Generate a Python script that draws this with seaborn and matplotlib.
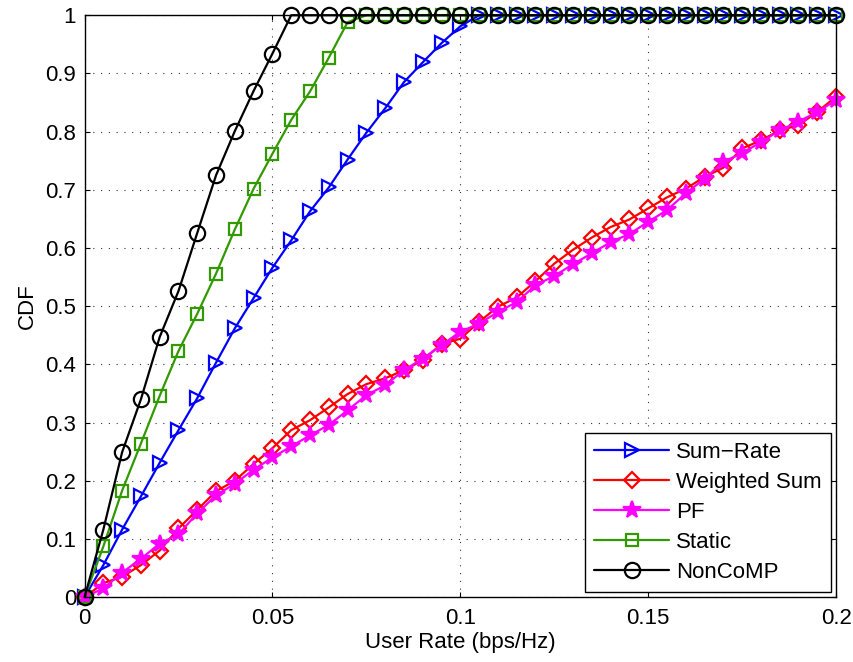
import numpy as np
import pandas as pd
import matplotlib
matplotlib.use("Agg")
import matplotlib.pyplot as plt
import seaborn as sns

# User rate grid (bps/Hz), one sample every 0.005
user_rate = [round(0.005 * i, 3) for i in range(41)]

sum_rate = [0.0, 0.055, 0.116, 0.173, 0.231, 0.287, 0.342, 0.403, 0.462, 0.514,
            0.566, 0.613, 0.663, 0.704, 0.752, 0.798, 0.840, 0.885, 0.919, 0.952,
            0.981, 1.0, 1.0, 1.0, 1.0, 1.0, 1.0, 1.0, 1.0, 1.0,
            1.0, 1.0, 1.0, 1.0, 1.0, 1.0, 1.0, 1.0, 1.0, 1.0, 1.0]

weighted_sum = [0.0, 0.024, 0.035, 0.055, 0.080, 0.118, 0.150, 0.182, 0.200, 0.229,
                0.256, 0.287, 0.304, 0.326, 0.349, 0.366, 0.376, 0.390, 0.407, 0.435,
                0.444, 0.473, 0.499, 0.515, 0.543, 0.573, 0.597, 0.618, 0.636, 0.649,
                0.668, 0.687, 0.702, 0.722, 0.738, 0.771, 0.785, 0.802, 0.811, 0.834, 0.860]

pf = [0.0, 0.015, 0.042, 0.066, 0.092, 0.108, 0.144, 0.175, 0.195, 0.219,
      0.240, 0.259, 0.278, 0.296, 0.321, 0.347, 0.364, 0.390, 0.410, 0.433,
      0.456, 0.470, 0.490, 0.507, 0.536, 0.552, 0.572, 0.591, 0.610, 0.624,
      0.645, 0.665, 0.694, 0.719, 0.748, 0.763, 0.782, 0.802, 0.817, 0.834, 0.854]

static = [0.0, 0.087, 0.183, 0.264, 0.346, 0.423, 0.487, 0.556, 0.632, 0.702,
          0.762, 0.820, 0.869, 0.927, 0.988, 1.0, 1.0, 1.0, 1.0, 1.0,
          1.0, 1.0, 1.0, 1.0, 1.0, 1.0, 1.0, 1.0, 1.0, 1.0,
          1.0, 1.0, 1.0, 1.0, 1.0, 1.0, 1.0, 1.0, 1.0, 1.0, 1.0]

noncomp = [0.0, 0.116, 0.249, 0.340, 0.447, 0.526, 0.626, 0.725, 0.801, 0.870,
           0.934, 1.0, 1.0, 1.0, 1.0, 1.0, 1.0, 1.0, 1.0, 1.0,
           1.0, 1.0, 1.0, 1.0, 1.0, 1.0, 1.0, 1.0, 1.0, 1.0,
           1.0, 1.0, 1.0, 1.0, 1.0, 1.0, 1.0, 1.0, 1.0, 1.0, 1.0]

scheme_names = ["Sum\u2212Rate", "Weighted Sum", "PF", "Static", "NonCoMP"]
x_ticks = [0, 0.05, 0.1, 0.15, 0.2]
x_tick_labels = ["0", "0.05", "0.1", "0.15", "0.2"]
y_ticks = [round(0.1 * i, 1) for i in range(11)]
y_tick_labels = ["0", "0.1", "0.2", "0.3", "0.4", "0.5", "0.6", "0.7", "0.8", "0.9", "1"]

series = [sum_rate, weighted_sum, pf, static, noncomp]
styles = [
    dict(color="#0000ff", marker=">", ms=10, mfc="none"),
    dict(color="#ff0000", marker="D", ms=8, mfc="none"),
    dict(color="#ff00ff", marker="*", ms=13, mfc="#ff00ff"),
    dict(color="#339900", marker="s", ms=8, mfc="none"),
    dict(color="#000000", marker="o", ms=11, mfc="none"),
]

FS = 16

sns.set_theme(style="white")
plt.rcParams["font.family"] = ["Liberation Sans", "DejaVu Sans"]
plt.rcParams["text.color"] = "black"
plt.rcParams["axes.labelcolor"] = "black"

fig = plt.figure(figsize=(8.54, 6.62), dpi=100)
ax = fig.add_axes([0.099, 0.098, 0.880, 0.879])

for name, vals, st in zip(scheme_names, series, styles):
    df = pd.DataFrame({"rate": user_rate, "cdf": vals})
    sns.lineplot(data=df, x="rate", y="cdf", ax=ax, label=name,
                 color=st["color"], marker=st["marker"], markersize=st["ms"],
                 markerfacecolor=st["mfc"], markeredgecolor=st["color"],
                 markeredgewidth=1.6, linewidth=1.6, estimator=None,
                 sort=False, clip_on=False)

ax.set_xlim(0, 0.2)
ax.set_ylim(0, 1)
ax.set_xticks(x_ticks)
ax.set_xticklabels(x_tick_labels)
ax.set_yticks(y_ticks)
ax.set_yticklabels(y_tick_labels)
ax.set_xlabel("User Rate (bps/Hz)", fontsize=FS, labelpad=2, color="black")
ax.set_ylabel("CDF", fontsize=FS, labelpad=5, color="black")

ax.tick_params(direction="in", length=3.5, width=0.8, labelsize=FS,
               top=True, right=True, bottom=True, left=True, colors="black")
ax.tick_params(axis="x", pad=8)
ax.tick_params(axis="y", pad=6)
for sp in ax.spines.values():
    sp.set_color("black")
    sp.set_linewidth(1.0)
    sp.set_zorder(5)

ax.grid(True, color="black", linestyle=(0, (1, 6)), linewidth=0.8, alpha=0.8)
ax.set_axisbelow(True)

leg = ax.legend(loc="lower right", fontsize=FS, handlelength=3.4,
                handletextpad=0.3, labelspacing=0.4, borderpad=0.4,
                borderaxespad=0.25, fancybox=False, framealpha=1.0,
                edgecolor="black")
leg.get_frame().set_linewidth(1.0)
for t in leg.get_texts():
    t.set_color("black")

fig.savefig("out.png", dpi=100, facecolor="white")
